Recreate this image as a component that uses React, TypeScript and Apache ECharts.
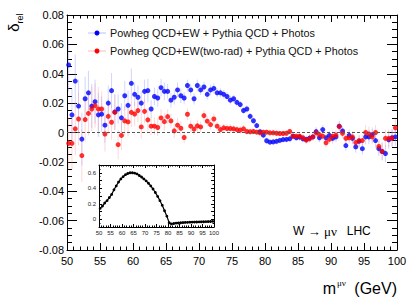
import React, { useEffect, useRef } from "react";
import * as echarts from "echarts";

// Bin grid: 100 bins of 0.5 GeV from 50 to 100 GeV
const binStart = 50;
const binWidth = 0.5;
const massBins = Array.from({ length: 100 }, (_, i) => binStart + binWidth * (i + 0.5));

// delta_rel, Powheg QCD+EW + Pythia QCD + Photos (blue)
const blueValues = [
  0.046, 0.012, 0.035, 0.018, -0.0045, 0.023, 0.027, 0.018, 0.021, 0.012,
  0.0125, 0.005, 0.020, 0.0285, 0.014, 0.016, 0.010, 0.025, 0.0185, 0.0335,
  0.026, 0.024, 0.020, 0.028, 0.0285, 0.016, 0.0245, 0.0235, 0.0305, 0.028,
  0.028, 0.022, 0.024, 0.029, 0.025, 0.0235, 0.032, 0.029, 0.023, 0.032,
  0.029, 0.031, 0.026, 0.029, 0.030, 0.027, 0.027, 0.026, 0.0245, 0.022,
  0.023, 0.0205, 0.019, 0.015, 0.016, 0.011, 0.008, 0.0047, 0.0005, -0.0018,
  -0.0056, -0.0066, -0.0064, -0.006, -0.0054, -0.0048, -0.0047, -0.0043, -0.0025, -0.0036,
  -0.0032, -0.0043, -0.0047, -0.0038, -0.003, 0.0006, -0.0036, 0.002, -0.0036, -0.002,
  -0.004, -0.003, 0.0043, 0.001, -0.0089, -0.002, -0.004, -0.0098, -0.006, -0.011,
  -0.003, -0.003, -0.0015, -0.0055, -0.011, -0.013, -0.0143, -0.005, -0.0036, -0.003,
];

// delta_rel, Powheg QCD+EW(two-rad) + Pythia QCD + Photos (red)
const redValues = [
  -0.0074, -0.0074, 0.0025, 0.0092, -0.0157, 0.0088, 0.013, 0.016, 0.0183, 0.016,
  0.016, -0.001, 0.011, 0.007, 0.0137, -0.0083, -0.002, 0.0079, 0.0072, 0.0137,
  0.0126, 0.0149, 0.0038, 0.0144, 0.0086, 0.0043, 0.0043, 0.0034, 0.0099, 0.0074,
  0.0108, 0.0079, 0.0011, 0.005, 0.0029, -0.0034, 0.0124, 0.0043, 0.0023, 0.0045,
  0.0038, 0.0115, 0.0077, 0.0054, 0.0092, 0.0043, 0.002, 0.0032, 0.0027, 0.0027,
  0.0025, 0.002, 0.0016, 0.0025, 0.0007, 0.0005, 0.0007, 0.0002, -0.0002, 0.0002,
  0.0002, -0.0002, -0.0002, -0.0005, -0.0007, -0.0007, -0.0005, 0.0007, -0.0025, -0.0025,
  -0.0025, -0.0036, -0.0052, -0.0043, -0.003, -0.0002, -0.0014, -0.0025, -0.007, -0.0047,
  -0.0025, -0.0018, 0.004, -0.0005, -0.004, -0.0036, -0.003, -0.0068, -0.0055, -0.0055,
  0.0, -0.001, -0.003, 0.0, -0.0095, -0.0128, -0.004, -0.004, -0.004, 0.0032,
];

// Statistical uncertainty, one value per 2.5 GeV block (5 bins)
const errorBlocks = [
  0.018, 0.015, 0.012, 0.01, 0.008, 0.006, 0.005, 0.004, 0.0035, 0.003,
  0.0025, 0.002, 0.002, 0.002, 0.0025, 0.003, 0.0035, 0.004, 0.005, 0.006,
];

// Inset curve (1 GeV steps)
const insetMass = Array.from({ length: 50 }, (_, i) => 50.5 + i);
const insetValues = [
  0.14, 0.17, 0.21, 0.24, 0.28, 0.32, 0.38, 0.43, 0.48, 0.52,
  0.55, 0.575, 0.59, 0.6, 0.6, 0.595, 0.585, 0.565, 0.545, 0.52,
  0.495, 0.465, 0.43, 0.39, 0.345, 0.295, 0.24, 0.18, 0.11, 0.04,
  -0.045, -0.06, -0.055, -0.05, -0.048, -0.045, -0.043, -0.041, -0.04, -0.038,
  -0.037, -0.036, -0.035, -0.034, -0.033, -0.032, -0.031, -0.03, -0.029, -0.027,
];

const legendLabels = [
  "Powheg QCD+EW + Pythia QCD + Photos",
  "Powheg QCD+EW(two-rad) + Pythia QCD + Photos",
];

const FONT = "'Liberation Sans', Arial, Helvetica, sans-serif";
const SERIF = "'Liberation Serif', 'DejaVu Serif', serif";

function errorBarSeries(values: number[], color: string, withZero: boolean) {
  const data = massBins.map((x, i) => [x, values[i], errorBlocks[Math.floor(i / 5)]]);
  const s: any = {
    type: "custom",
    xAxisIndex: 0,
    yAxisIndex: 0,
    clip: true,
    silent: true,
    z: 1,
    data,
    renderItem: (params: any, api: any) => {
      const x = api.value(0);
      const y = api.value(1);
      const e = api.value(2);
      const top = api.coord([x, y + e]);
      const bot = api.coord([x, y - e]);
      return {
        type: "line",
        shape: { x1: top[0], y1: top[1], x2: bot[0], y2: bot[1] },
        style: { stroke: color, lineWidth: 1 },
      };
    },
  };
  if (withZero) {
    s.markLine = {
      silent: true,
      symbol: "none",
      label: { show: false },
      lineStyle: { type: [3, 2], color: "#555", width: 1 },
      data: [{ yAxis: 0 }],
    };
  }
  return s;
}

function mainAxisCommon() {
  return {
    axisLine: { show: true, onZero: false, lineStyle: { color: "#000", width: 1 } },
    splitLine: { show: false },
    minorSplitLine: { show: false },
  };
}

export default function App() {
  const ref = useRef<HTMLDivElement>(null);

  useEffect(() => {
    if (!ref.current) return;
    const chart = echarts.init(ref.current, undefined, { renderer: "svg" });

    const option: any = {
      animation: false,
      backgroundColor: "#fff",
      grid: [
        { left: 67, top: 15, width: 330, height: 235 },
        { left: 99, top: 165, width: 115, height: 62, show: true, backgroundColor: "#fff", borderWidth: 0 },
      ],
      xAxis: [
        {
          gridIndex: 0, type: "value", min: 50, max: 100, interval: 5, position: "bottom",
          ...mainAxisCommon(),
          axisTick: { show: true, inside: true, length: 7, lineStyle: { color: "#000" } },
          minorTick: { show: true, splitNumber: 5, length: 3.5, lineStyle: { color: "#000" } },
          axisLabel: { fontSize: 11, color: "#000", margin: 5, fontFamily: FONT },
        },
        {
          gridIndex: 0, type: "value", min: 50, max: 100, interval: 5, position: "top",
          ...mainAxisCommon(),
          axisTick: { show: true, inside: true, length: 7, lineStyle: { color: "#000" } },
          minorTick: { show: true, splitNumber: 5, length: 3.5, lineStyle: { color: "#000" } },
          axisLabel: { show: false },
        },
        {
          gridIndex: 1, type: "value", min: 50, max: 100, interval: 5, position: "bottom",
          ...mainAxisCommon(),
          axisTick: { show: true, inside: true, length: 3, lineStyle: { color: "#000" } },
          minorTick: { show: true, splitNumber: 5, length: 1.5, lineStyle: { color: "#000" } },
          axisLabel: { fontSize: 6, color: "#222", margin: 3, fontFamily: FONT },
        },
        {
          gridIndex: 1, type: "value", min: 50, max: 100, interval: 5, position: "top",
          ...mainAxisCommon(),
          axisTick: { show: true, inside: true, length: 3, lineStyle: { color: "#000" } },
          minorTick: { show: true, splitNumber: 5, length: 1.5, lineStyle: { color: "#000" } },
          axisLabel: { show: false },
        },
      ],
      yAxis: [
        {
          gridIndex: 0, type: "value", min: -0.08, max: 0.08, interval: 0.02, position: "left",
          ...mainAxisCommon(),
          axisTick: { show: true, inside: true, length: 10, lineStyle: { color: "#000" } },
          minorTick: { show: true, splitNumber: 4, length: 5, lineStyle: { color: "#000" } },
          axisLabel: {
            fontSize: 11, color: "#000", margin: 3, fontFamily: FONT,
            formatter: (v: number) => (Math.abs(v) < 1e-9 ? "0" : v.toFixed(2)),
          },
        },
        {
          gridIndex: 0, type: "value", min: -0.08, max: 0.08, interval: 0.02, position: "right",
          ...mainAxisCommon(),
          axisTick: { show: true, inside: true, length: 10, lineStyle: { color: "#000" } },
          minorTick: { show: true, splitNumber: 4, length: 5, lineStyle: { color: "#000" } },
          axisLabel: { show: false },
        },
        {
          gridIndex: 1, type: "value", min: -0.1, max: 0.7, interval: 0.1, position: "left",
          ...mainAxisCommon(),
          axisTick: { show: true, inside: true, length: 3, lineStyle: { color: "#000" } },
          minorTick: { show: true, splitNumber: 2, length: 1.5, lineStyle: { color: "#000" } },
          axisLabel: {
            fontSize: 6, color: "#222", margin: 3, fontFamily: FONT,
            formatter: (v: number) => {
              const k = Math.round(v * 10);
              if (k < 0 || k % 2 !== 0) return "";
              return k === 0 ? "0" : (k / 10).toFixed(1);
            },
          },
        },
        {
          gridIndex: 1, type: "value", min: -0.1, max: 0.7, interval: 0.1, position: "right",
          ...mainAxisCommon(),
          axisTick: { show: true, inside: true, length: 3, lineStyle: { color: "#000" } },
          minorTick: { show: true, splitNumber: 2, length: 1.5, lineStyle: { color: "#000" } },
          axisLabel: { show: false },
        },
      ],
      series: [
        errorBarSeries(blueValues, "rgba(140,150,255,0.4)", true),
        errorBarSeries(redValues, "rgba(255,140,140,0.35)", false),
        {
          name: legendLabels[0],
          type: "scatter",
          xAxisIndex: 0, yAxisIndex: 0,
          symbol: "circle", symbolSize: 5,
          itemStyle: { color: "#0000ff" },
          z: 3,
          data: massBins.map((x, i) => [x, blueValues[i]]),
        },
        {
          name: legendLabels[1],
          type: "scatter",
          xAxisIndex: 0, yAxisIndex: 0,
          symbol: "circle", symbolSize: 5,
          itemStyle: { color: "#ff0000" },
          z: 4,
          data: massBins.map((x, i) => [x, redValues[i]]),
        },
        {
          type: "line",
          xAxisIndex: 2, yAxisIndex: 2,
          symbol: "circle", symbolSize: 2.8,
          showSymbol: true,
          itemStyle: { color: "#000" },
          lineStyle: { color: "#000", width: 1.2 },
          z: 5,
          data: insetMass.map((x, i) => [x, insetValues[i]]),
        },
      ],
      graphic: [
        // legend
        { type: "line", shape: { x1: 88, y1: 33, x2: 106, y2: 33 }, style: { stroke: "rgba(140,150,255,0.6)", lineWidth: 1 }, z: 10 },
        { type: "circle", shape: { cx: 97, cy: 33, r: 2.5 }, style: { fill: "#0000ff" }, z: 10 },
        { type: "text", x: 110, y: 33, style: { text: legendLabels[0], fontSize: 10.8, fontFamily: FONT, fill: "#111", verticalAlign: "middle", align: "left" }, z: 10 },
        { type: "line", shape: { x1: 88, y1: 51, x2: 106, y2: 51 }, style: { stroke: "rgba(255,140,140,0.6)", lineWidth: 1 }, z: 10 },
        { type: "circle", shape: { cx: 97, cy: 51, r: 2.5 }, style: { fill: "#ff0000" }, z: 10 },
        { type: "text", x: 110, y: 51, style: { text: legendLabels[1], fontSize: 10.8, fontFamily: FONT, fill: "#111", verticalAlign: "middle", align: "left" }, z: 10 },
        // y title
        { type: "text", x: 13, y: 27.5, rotation: Math.PI / 2, style: { text: "δ", fontSize: 15, fontFamily: FONT, fill: "#000", align: "center", verticalAlign: "middle" }, z: 10 },
        { type: "text", x: 19.5, y: 18.5, rotation: Math.PI / 2, style: { text: "rel", fontSize: 9, fontFamily: FONT, fill: "#000", align: "center", verticalAlign: "middle" }, z: 10 },
        // x title
        { type: "text", x: 397, y: 288, style: { text: "(GeV)", fontSize: 16, fontFamily: FONT, fill: "#000", align: "right", verticalAlign: "middle" }, z: 10 },
        { type: "text", x: 337, y: 283, style: { text: "μν", fontSize: 9, fontFamily: SERIF, fill: "#000", align: "left", verticalAlign: "middle" }, z: 10 },
        { type: "text", x: 336, y: 288, style: { text: "m", fontSize: 16, fontFamily: FONT, fill: "#000", align: "right", verticalAlign: "middle" }, z: 10 },
        // process label
        {
          type: "text", x: 293, y: 231, z: 10,
          style: {
            text: "{a|W }{b|→ μν}{a|   LHC}",
            verticalAlign: "middle", align: "left",
            rich: {
              a: { fontSize: 12, fontFamily: FONT, fill: "#000" },
              b: { fontSize: 13, fontFamily: SERIF, fill: "#000" },
            },
          },
        },
      ],
    };

    chart.setOption(option);
    return () => chart.dispose();
  }, []);

  return (
    <div
      ref={ref}
      style={{ position: "fixed", left: 0, top: 0, width: 418, height: 300, background: "#fff" }}
    />
  );
}
